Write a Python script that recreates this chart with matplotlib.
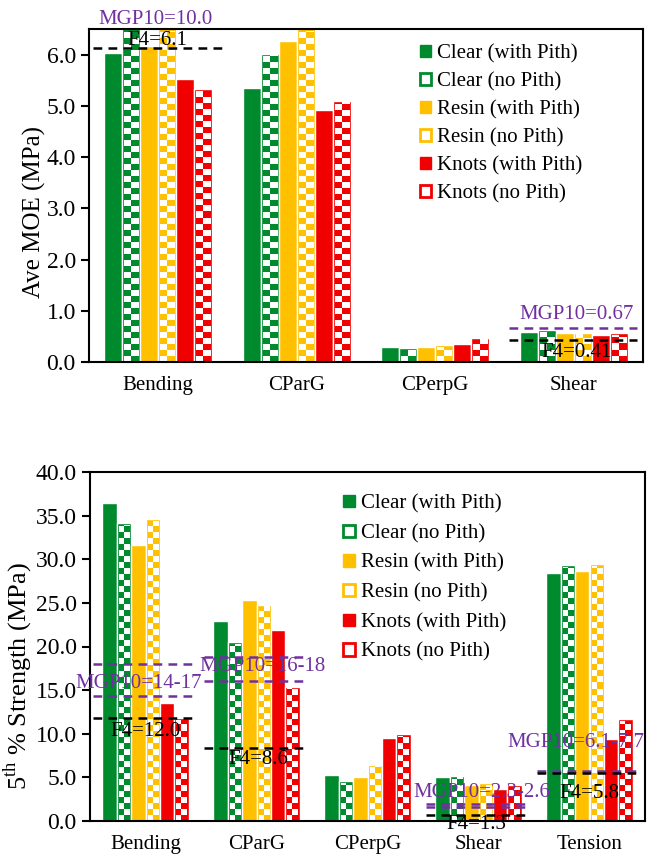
import numpy as np
import matplotlib
matplotlib.use('Agg')
import matplotlib.pyplot as plt
from matplotlib.patches import Patch, Rectangle

plt.rcParams['font.family'] = ['Liberation Serif', 'DejaVu Serif']
plt.rcParams['mathtext.fontset'] = 'custom'
plt.rcParams['mathtext.rm'] = 'Liberation Serif'

# series / styling
series = ['Clear (with Pith)', 'Clear (no Pith)', 'Resin (with Pith)',
          'Resin (no Pith)', 'Knots (with Pith)', 'Knots (no Pith)']
colors = ['#008A2E', '#008A2E', '#FFC000', '#FFC000', '#F00000', '#F00000']
checked = [False, True, False, True, False, True]
purple = '#7030A0'

# top panel: average MOE
moe_cats = ['Bending', 'CParG', 'CPerpG', 'Shear']
moe_clear_p = [6.03, 5.34, 0.30, 0.58]
moe_clear_np = [6.70, 6.02, 0.27, 0.62]
moe_resin_p = [6.16, 6.26, 0.30, 0.57]
moe_resin_np = [6.70, 6.70, 0.33, 0.57]
moe_knots_p = [5.53, 4.91, 0.35, 0.53]
moe_knots_np = [5.32, 5.10, 0.47, 0.56]

# bottom panel: 5th percentile strength
str_cats = ['Bending', 'CParG', 'CPerpG', 'Shear', 'Tension']
str_clear_p = [36.4, 22.9, 5.27, 5.08, 28.4]
str_clear_np = [34.1, 20.5, 4.58, 5.16, 29.3]
str_resin_p = [31.6, 25.3, 5.08, 4.13, 28.6]
str_resin_np = [34.6, 24.8, 6.42, 4.30, 29.4]
str_knots_p = [13.5, 21.9, 9.48, 3.63, 9.4]
str_knots_np = [11.8, 15.4, 9.97, 4.09, 11.65]

# reference lines: (category, value, colour)
moe_lines = [(0, 10.0, purple), (0, 6.13, 'black'), (3, 0.66, purple), (3, 0.43, 'black')]
str_lines = [(0, 18.0, purple), (0, 14.3, purple), (0, 11.8, 'black'),
             (1, 18.8, purple), (1, 16.0, purple), (1, 8.4, 'black'),
             (3, 2.0, purple), (3, 1.55, purple), (3, 0.7, 'black'),
             (4, 5.75, purple), (4, 5.47, 'black')]
# labels: (x, y, text, colour)
moe_notes = [(-0.02, 6.69, 'MGP10=10.0', purple), (-0.01, 6.28, 'F4=6.1', 'black'),
             (3.02, 0.92, 'MGP10=0.67', purple), (3.02, 0.18, 'F4=0.41', 'black')]
str_notes = [(-0.06, 15.8, 'MGP10=14-17', purple), (1.05, 17.7, 'MGP10=16-18', purple),
             (0.0, 10.3, 'F4=12.0', 'black'), (1.02, 7.0, 'F4=8.6', 'black'),
             (3.03, 3.3, 'MGP10=2.3-2.6', purple), (2.98, -0.45, 'F4=1.3', 'black'),
             (3.88, 8.95, 'MGP10=6.1-7.7', purple), (4.0, 3.1, 'F4=5.8', 'black')]


def checker_fill(ax, x0, w, h, ymax, ncat):
    # white checkerboard squares inside a bar (2 columns)
    top = min(h, ymax)
    ppu_y = ax.bbox.height / ymax
    ppu_x = ax.bbox.width / ncat
    cell = 6.0
    ins = 2.0 / ppu_x
    nrows = int(np.ceil(top * ppu_y / cell))
    img = np.zeros((nrows, 2, 4))
    for r in range(nrows):
        for c in range(2):
            if (r + c) % 2 == 0:
                img[r, c] = (1, 1, 1, 1)
    im = ax.imshow(img, extent=(x0 + ins, x0 + w - ins, 0, nrows * cell / ppu_y),
                   origin='lower', aspect='auto', interpolation='nearest', zorder=2.5)
    im.set_clip_path(Rectangle((x0 + ins, 0), w - 2 * ins, top - 1.5 / ppu_y,
                               transform=ax.transData))


def panel(ax, cats, data, ymax, step, lines, notes, ylabel, ylab_size, ylab_xy,
          legend_xy, lspace):
    n = len(cats)
    ax.set_xlim(-0.5, n - 0.5)
    ax.set_ylim(0, ymax)
    x = np.arange(n)
    w = 0.13
    for i, vals in enumerate(data):
        pos = x + (i - 2.5) * w
        ax.bar(pos, vals, w, color=colors[i], edgecolor='white', linewidth=1.0, zorder=2)
        if checked[i]:
            for p, v in zip(pos, vals):
                checker_fill(ax, p - w / 2, w, v, ymax, n)
    for cat, y, c in lines:
        ax.plot([cat - 0.47, cat + 0.46], [y, y], color=c, lw=1.8,
                dashes=(3.5, 2.5), zorder=3)
    for tx, ty, s, c in notes:
        ax.text(tx, ty, s, color=c, fontsize=15, ha='center', va='center',
                zorder=4, clip_on=False)
    ax.set_xlim(-0.5, n - 0.5)
    ax.set_ylim(0, ymax)
    ax.set_yticks(np.arange(0, ymax + 0.01, step))
    ax.set_yticklabels(['%.1f' % t for t in np.arange(0, ymax + 0.01, step)])
    ax.set_xticks(x)
    ax.set_xticklabels(cats)
    ax.tick_params(axis='x', length=0, labelsize=15, pad=10)
    ax.tick_params(axis='y', length=6, width=1.5, labelsize=17, direction='out')
    for sp in ax.spines.values():
        sp.set_linewidth(1.5)
    ax.set_ylabel(ylabel, fontsize=ylab_size)
    ax.yaxis.set_label_coords(*ylab_xy)
    handles = []
    for i in range(6):
        if checked[i]:
            handles.append(Patch(facecolor='white', edgecolor=colors[i], linewidth=2))
        else:
            handles.append(Patch(facecolor=colors[i], edgecolor=colors[i]))
    ax.legend(handles, series, loc='upper left', bbox_to_anchor=legend_xy,
              frameon=False, fontsize=15, handlelength=0.55, handleheight=0.55,
              handletextpad=0.3, labelspacing=lspace, borderaxespad=0)


fig = plt.figure(figsize=(6.51, 8.56), dpi=100)
ax1 = fig.add_axes([89 / 651, 1 - 362 / 856, 554 / 651, 333 / 856])
ax2 = fig.add_axes([90 / 651, 1 - 821 / 856, 555 / 651, 349 / 856])

panel(ax1, moe_cats,
      [moe_clear_p, moe_clear_np, moe_resin_p, moe_resin_np, moe_knots_p, moe_knots_np],
      6.5, 1.0, moe_lines, moe_notes, 'Ave MOE (MPa)', 18, (-0.078, 0.45),
      (0.582, 0.98), 0.42)
panel(ax2, str_cats,
      [str_clear_p, str_clear_np, str_resin_p, str_resin_np, str_knots_p, str_knots_np],
      40.0, 5.0, str_lines, str_notes, '5$^{\\mathrm{th}}$ % Strength (MPa)', 19,
      (-0.1, 0.415), (0.441, 0.96), 0.5)

fig.savefig('out.png', dpi=100)
